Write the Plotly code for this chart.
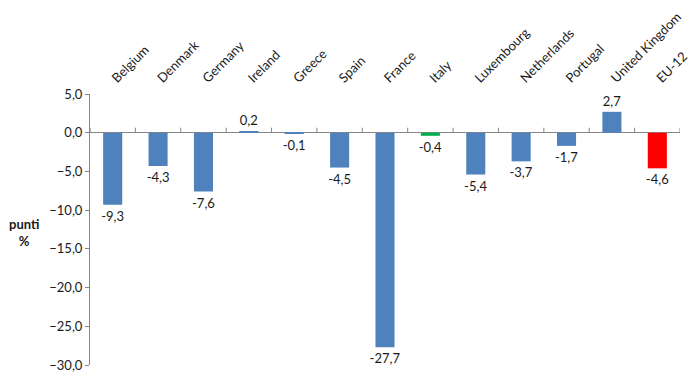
import plotly.graph_objects as go

categories = ["Belgium", "Denmark", "Germany", "Ireland", "Greece", "Spain", "France",
              "Italy", "Luxembourg", "Netherlands", "Portugal", "United Kingdom", "EU-12"]
values = [-9.3, -4.3, -7.6, 0.2, -0.1, -4.5, -27.7, -0.4, -5.4, -3.7, -1.7, 2.7, -4.6]
bar_colors = ["#4F81BD"] * 7 + ["#00B050"] + ["#4F81BD"] * 4 + ["#FF0000"]
y_ticks = [5, 0, -5, -10, -15, -20, -25, -30]

labels = [f"{v:.1f}".replace(".", ",") for v in values]

FONT = "Lato, Open Sans, sans-serif"
AXIS_GRAY = "#868686"
TXT = "#1a1a1a"

fig = go.Figure()
fig.add_trace(go.Bar(
    x=categories, y=values,
    marker=dict(color=bar_colors, line=dict(width=0)),
    text=labels, textposition="outside", cliponaxis=False, constraintext="none",
    textfont=dict(family=FONT, size=13, color=TXT),
))

shapes = []
for i in range(len(categories) + 1):
    shapes.append(dict(type="line", xref="x", yref="y", x0=i - 0.5, x1=i - 0.5,
                       ysizemode="pixel", yanchor=0, y0=0, y1=5,
                       line=dict(color=AXIS_GRAY, width=1)))

fig.update_layout(
    width=690, height=377,
    margin=dict(l=90, r=10, t=94, b=12),
    plot_bgcolor="white", paper_bgcolor="white",
    separators=",.",
    bargap=0.58,
    showlegend=False,
    font=dict(family=FONT, size=13, color=TXT),
    xaxis=dict(type="category", side="top", tickangle=-45, showline=False, ticks="",
               showgrid=False, zeroline=False, range=[-0.5, len(categories) - 0.5],
               automargin=False, ticklabelstandoff=5,
               tickfont=dict(family=FONT, size=13, color=TXT)),
    yaxis=dict(range=[-30, 5], tickvals=y_ticks, tickformat=".1f", showgrid=False,
               showline=True, linecolor=AXIS_GRAY, linewidth=1,
               ticks="outside", ticklen=4, tickcolor=AXIS_GRAY,
               zeroline=True, zerolinecolor=AXIS_GRAY, zerolinewidth=1,
               automargin=False,
               tickfont=dict(family=FONT, size=13, color=TXT)),
    shapes=shapes,
    annotations=[dict(text="<b>punti<br>%</b>", xref="paper", yref="paper",
                      x=-0.112, y=0.49, showarrow=False, xanchor="center", yanchor="middle",
                      font=dict(family=FONT, size=13, color=TXT))],
)

fig.write_html("out.html", config={"displayModeBar": False},
               post_script="document.body.style.margin='0';document.body.style.overflow='hidden';")
